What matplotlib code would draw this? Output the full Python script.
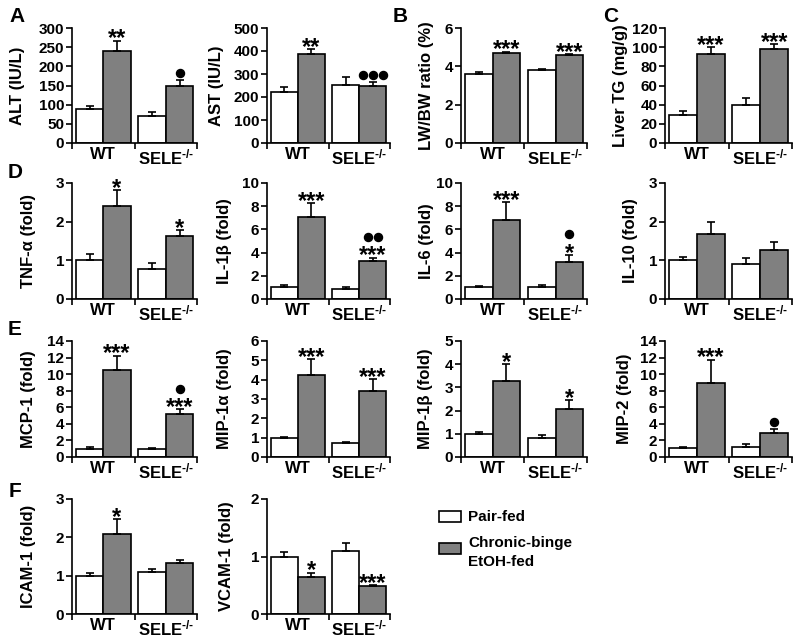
import matplotlib
matplotlib.use('Agg')
import matplotlib.pyplot as plt
from matplotlib.patches import Rectangle
from matplotlib.transforms import offset_copy
import numpy as np

plt.rcParams['font.family'] = ['Liberation Sans', 'DejaVu Sans']
plt.rcParams['font.weight'] = 'bold'
plt.rcParams['mathtext.fontset'] = 'custom'
plt.rcParams['mathtext.rm'] = 'Liberation Sans:bold'
plt.rcParams['mathtext.bf'] = 'Liberation Sans:bold'
plt.rcParams['mathtext.it'] = 'Liberation Sans:bold'
plt.rcParams['axes.unicode_minus'] = False

# ---------------- data ----------------
groups = ['WT', r'SELE$^{\text{-/-}}$']
series_labels = ['Pair-fed', 'Chronic-binge\nEtOH-fed']

# values are [WT, SELE-/-]
alt_pair, alt_pair_err = [89, 71], [8, 10]
alt_etoh, alt_etoh_err = [239, 150], [28, 14]
alt_stars, alt_dots = ['**', ''], [0, 1]

ast_pair, ast_pair_err = [220, 252], [22, 33]
ast_etoh, ast_etoh_err = [388, 248], [22, 19]
ast_stars, ast_dots = ['**', ''], [0, 3]

lwbw_pair, lwbw_pair_err = [3.6, 3.8], [0.12, 0.07]
lwbw_etoh, lwbw_etoh_err = [4.7, 4.6], [0.07, 0.06]
lwbw_stars, lwbw_dots = ['***', '***'], [0, 0]

tg_pair, tg_pair_err = [29, 40], [4, 7]
tg_etoh, tg_etoh_err = [93, 98], [7, 5]
tg_stars, tg_dots = ['***', '***'], [0, 0]

tnf_pair, tnf_pair_err = [1.0, 0.78], [0.17, 0.15]
tnf_etoh, tnf_etoh_err = [2.4, 1.63], [0.42, 0.15]
tnf_stars, tnf_dots = ['*', '*'], [0, 0]

il1b_pair, il1b_pair_err = [1.0, 0.88], [0.2, 0.18]
il1b_etoh, il1b_etoh_err = [7.1, 3.25], [1.15, 0.32]
il1b_stars, il1b_dots = ['***', '***'], [0, 2]

il6_pair, il6_pair_err = [1.0, 1.05], [0.1, 0.18]
il6_etoh, il6_etoh_err = [6.8, 3.17], [1.57, 0.6]
il6_stars, il6_dots = ['***', '*'], [0, 1]

il10_pair, il10_pair_err = [1.0, 0.9], [0.09, 0.17]
il10_etoh, il10_etoh_err = [1.67, 1.28], [0.33, 0.2]
il10_stars, il10_dots = ['', ''], [0, 0]

mcp1_pair, mcp1_pair_err = [1.0, 0.92], [0.15, 0.15]
mcp1_etoh, mcp1_etoh_err = [10.5, 5.15], [1.75, 0.6]
mcp1_stars, mcp1_dots = ['***', '***'], [0, 1]

mip1a_pair, mip1a_pair_err = [1.0, 0.7], [0.05, 0.06]
mip1a_etoh, mip1a_etoh_err = [4.25, 3.42], [0.8, 0.63]
mip1a_stars, mip1a_dots = ['***', '***'], [0, 0]

mip1b_pair, mip1b_pair_err = [1.0, 0.8], [0.07, 0.16]
mip1b_etoh, mip1b_etoh_err = [3.27, 2.08], [0.73, 0.38]
mip1b_stars, mip1b_dots = ['*', '*'], [0, 0]

mip2_pair, mip2_pair_err = [1.05, 1.25], [0.12, 0.3]
mip2_etoh, mip2_etoh_err = [8.9, 2.95], [2.85, 0.42]
mip2_stars, mip2_dots = ['***', ''], [0, 1]

icam_pair, icam_pair_err = [1.0, 1.1], [0.07, 0.08]
icam_etoh, icam_etoh_err = [2.1, 1.32], [0.37, 0.1]
icam_stars, icam_dots = ['*', ''], [0, 0]

vcam_pair, vcam_pair_err = [1.0, 1.09], [0.07, 0.14]
vcam_etoh, vcam_etoh_err = [0.65, 0.48], [0.07, 0.03]
vcam_stars, vcam_dots = ['*', '***'], [0, 0]

GRAY = '#808080'
W, H = 800, 639
fig = plt.figure(figsize=(W / 100, H / 100), dpi=100)

rows = [(28, 143), (183, 299), (341, 457), (499, 614)]
cols = [(72, 197), (267, 390), (461, 587), (665, 792)]


def px_axes(c, r):
    l, rr = cols[c]
    t, b = rows[r]
    return fig.add_axes([l / W, 1 - b / H, (rr - l) / W, (b - t) / H])


def panel(c, r, ylabel, ylab_off, ymax, ystep, pair, pair_err, etoh, etoh_err, stars, dots):
    ax = px_axes(c, r)
    x = np.arange(len(groups))
    w = 0.44
    ax.bar(x - w / 2, pair, w, color='white', edgecolor='black', lw=1.2, zorder=2)
    ax.bar(x + w / 2, etoh, w, color=GRAY, edgecolor='black', lw=1.2, zorder=2)
    ax.errorbar(x - w / 2, pair, yerr=[np.zeros(len(x)), pair_err], fmt='none',
                ecolor='black', elinewidth=1.2, capsize=3, capthick=1.2, zorder=3)
    ax.errorbar(x + w / 2, etoh, yerr=[np.zeros(len(x)), etoh_err], fmt='none',
                ecolor='black', elinewidth=1.2, capsize=3, capthick=1.2, zorder=3)
    for i in range(len(x)):
        top = etoh[i] + etoh_err[i]
        xi = x[i] + w / 2
        if stars[i]:
            ax.annotate(stars[i], xy=(xi, top), xytext=(0, -3.5),
                        textcoords='offset points', ha='center', va='baseline',
                        fontsize=17, fontweight='bold', annotation_clip=False)
        n = dots[i]
        if n:
            dy = 15.0 if stars[i] else 5.0
            for k in range(n):
                dx = (k - (n - 1) / 2) * 7.0
                tr = offset_copy(ax.transData, fig=fig, x=dx, y=dy, units='points')
                ax.plot([xi], [top], 'o', color='black', ms=5.8, transform=tr,
                        clip_on=False)
    ax.set_xlim(-0.5, len(groups) - 0.5)
    ax.set_ylim(0, ymax)
    ax.set_yticks(np.arange(0, ymax + ystep / 2, ystep))
    ax.set_xticks(x)
    ax.set_xticklabels(groups, fontsize=12, fontweight='bold')
    ax.set_xticks(np.arange(-0.5, len(groups), 1.0), minor=True)
    ax.tick_params(axis='x', which='major', length=0, pad=3)
    ax.tick_params(axis='x', which='minor', length=4, width=1.2, direction='out')
    ax.tick_params(axis='y', length=4, width=1.2, pad=1.5, labelsize=11)
    for lab in ax.get_yticklabels():
        lab.set_fontweight('bold')
    for s in ['top', 'right']:
        ax.spines[s].set_visible(False)
    for s in ['left', 'bottom']:
        ax.spines[s].set_linewidth(1.2)
    ax.set_ylabel(ylabel, fontsize=12, fontweight='bold')
    wpx = cols[c][1] - cols[c][0]
    ax.yaxis.set_label_coords(-ylab_off / wpx, 0.5)
    ax.yaxis.label.set_verticalalignment('center')
    return ax


panel(0, 0, 'ALT (IU/L)', 54, 300, 50, alt_pair, alt_pair_err, alt_etoh, alt_etoh_err, alt_stars, alt_dots)
panel(1, 0, 'AST (IU/L)', 50, 500, 100, ast_pair, ast_pair_err, ast_etoh, ast_etoh_err, ast_stars, ast_dots)
panel(2, 0, 'LW/BW ratio (%)', 35, 6, 2, lwbw_pair, lwbw_pair_err, lwbw_etoh, lwbw_etoh_err, lwbw_stars, lwbw_dots)
panel(3, 0, 'Liver TG (mg/g)', 44, 120, 20, tg_pair, tg_pair_err, tg_etoh, tg_etoh_err, tg_stars, tg_dots)

panel(0, 1, 'TNF-α (fold)', 44, 3, 1, tnf_pair, tnf_pair_err, tnf_etoh, tnf_etoh_err, tnf_stars, tnf_dots)
panel(1, 1, 'IL-1β (fold)', 43, 10, 2, il1b_pair, il1b_pair_err, il1b_etoh, il1b_etoh_err, il1b_stars, il1b_dots)
panel(2, 1, 'IL-6 (fold)', 35, 10, 2, il6_pair, il6_pair_err, il6_etoh, il6_etoh_err, il6_stars, il6_dots)
panel(3, 1, 'IL-10 (fold)', 34, 3, 1, il10_pair, il10_pair_err, il10_etoh, il10_etoh_err, il10_stars, il10_dots)

panel(0, 2, 'MCP-1 (fold)', 44, 14, 2, mcp1_pair, mcp1_pair_err, mcp1_etoh, mcp1_etoh_err, mcp1_stars, mcp1_dots)
panel(1, 2, 'MIP-1α (fold)', 42, 6, 1, mip1a_pair, mip1a_pair_err, mip1a_etoh, mip1a_etoh_err, mip1a_stars, mip1a_dots)
panel(2, 2, 'MIP-1β (fold)', 36, 5, 1, mip1b_pair, mip1b_pair_err, mip1b_etoh, mip1b_etoh_err, mip1b_stars, mip1b_dots)
panel(3, 2, 'MIP-2 (fold)', 41, 14, 2, mip2_pair, mip2_pair_err, mip2_etoh, mip2_etoh_err, mip2_stars, mip2_dots)

panel(0, 3, 'ICAM-1 (fold)', 44, 3, 1, icam_pair, icam_pair_err, icam_etoh, icam_etoh_err, icam_stars, icam_dots)
panel(1, 3, 'VCAM-1 (fold)', 41, 2, 1, vcam_pair, vcam_pair_err, vcam_etoh, vcam_etoh_err, vcam_stars, vcam_dots)

# panel letters
for letter, px, py in [('A', 9, 22), ('B', 393, 22), ('C', 603, 22),
                       ('D', 8, 178), ('E', 8, 335), ('F', 9, 497)]:
    fig.text(px / W, 1 - py / H, letter, fontsize=15, fontweight='bold',
             ha='left', va='baseline')

# legend (boxes + labels)
for (color, label, ytop, ybase) in [('white', series_labels[0], 511, 521),
                                    (GRAY, series_labels[1], 543, 547)]:
    fig.patches.append(Rectangle((439 / W, 1 - (ytop + 11) / H), 22 / W, 11 / H,
                                 transform=fig.transFigure, facecolor=color,
                                 edgecolor='black', lw=1.2))
    for j, line in enumerate(label.split('\n')):
        fig.text(468 / W, 1 - (ybase + 19 * j) / H, line, fontsize=11,
                 fontweight='bold', ha='left', va='baseline')

fig.savefig('out.png', dpi=100)
